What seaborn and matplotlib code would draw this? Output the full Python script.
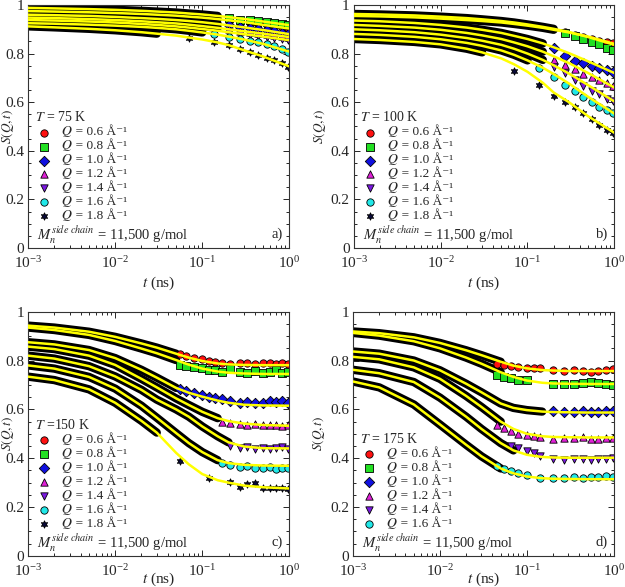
import numpy as np
import matplotlib

matplotlib.use('Agg')
import matplotlib.pyplot as plt
import seaborn as sns
from matplotlib.ticker import MultipleLocator, FuncFormatter

# fitted curves are read at these times (ns)
t_fit = [0.001, 0.002, 0.005, 0.01, 0.02, 0.03, 0.05, 0.07, 0.1, 0.15, 0.2, 0.3, 0.5, 1.0]

q_values = ['0.6', '0.8', '1.0', '1.2', '1.4', '1.6', '1.8']
q_colors = ['#ff1010', '#22e022', '#1010e0', '#e020d8', '#7a18e0', '#20e8e8', '#0a0a3a']
q_markers = ['o', 's', 'D', '^', 'v', 'o', (6, 1, 0)]

# ---- T = 75 K ----
fit_75 = [
    [0.975, 0.973, 0.970, 0.967, 0.963, 0.960, 0.956, 0.952, 0.948, 0.942, 0.937, 0.930, 0.918, 0.903],
    [0.988, 0.986, 0.983, 0.980, 0.976, 0.973, 0.969, 0.965, 0.961, 0.955, 0.950, 0.943, 0.932, 0.917],
    [0.960, 0.958, 0.955, 0.951, 0.946, 0.943, 0.938, 0.934, 0.929, 0.922, 0.916, 0.908, 0.897, 0.880],
    [0.948, 0.946, 0.942, 0.938, 0.933, 0.929, 0.924, 0.919, 0.913, 0.906, 0.900, 0.892, 0.882, 0.868],
    [0.938, 0.936, 0.932, 0.928, 0.922, 0.918, 0.912, 0.907, 0.901, 0.894, 0.888, 0.880, 0.870, 0.855],
    [0.925, 0.923, 0.919, 0.915, 0.910, 0.906, 0.900, 0.894, 0.887, 0.878, 0.870, 0.858, 0.840, 0.808],
    [0.912, 0.908, 0.902, 0.896, 0.888, 0.882, 0.874, 0.866, 0.858, 0.846, 0.835, 0.814, 0.788, 0.747],
]
dense_end_75 = [0.15, 0.15, 0.15, 0.15, 0.1, 0.1, 0.03]
t_pts_75 = [0.07, 0.135, 0.2, 0.27, 0.35, 0.44, 0.55, 0.66, 0.82, 0.97]
pts_75 = [
    [None, None, 0.936, 0.930, 0.927, 0.922, 0.918, 0.913, 0.908, 0.904],
    [None, None, 0.945, 0.940, 0.937, 0.934, 0.930, 0.926, 0.922, 0.918],
    [None, None, 0.918, 0.910, 0.905, 0.900, 0.896, 0.892, 0.886, 0.882],
    [None, None, 0.900, 0.893, 0.889, 0.884, 0.880, 0.877, 0.872, 0.868],
    [None, None, 0.890, 0.882, 0.877, 0.872, 0.868, 0.864, 0.859, 0.855],
    [None, 0.879, 0.868, 0.860, 0.853, 0.846, 0.838, 0.830, 0.820, 0.808],
    [0.865, 0.849, 0.835, 0.819, 0.805, 0.794, 0.783, 0.774, 0.760, 0.746],
]

# ---- T = 100 K ----
fit_100 = [
    [0.955, 0.953, 0.949, 0.944, 0.938, 0.934, 0.928, 0.922, 0.915, 0.906, 0.898, 0.887, 0.870, 0.840],
    [0.963, 0.961, 0.957, 0.952, 0.946, 0.941, 0.934, 0.928, 0.920, 0.910, 0.902, 0.889, 0.868, 0.836],
    [0.936, 0.933, 0.926, 0.918, 0.907, 0.898, 0.885, 0.873, 0.860, 0.842, 0.826, 0.802, 0.768, 0.720],
    [0.918, 0.914, 0.907, 0.898, 0.885, 0.875, 0.860, 0.846, 0.830, 0.808, 0.789, 0.761, 0.720, 0.660],
    [0.900, 0.896, 0.888, 0.878, 0.864, 0.853, 0.836, 0.820, 0.800, 0.774, 0.752, 0.718, 0.670, 0.603],
    [0.881, 0.877, 0.869, 0.859, 0.844, 0.832, 0.813, 0.795, 0.772, 0.742, 0.716, 0.677, 0.622, 0.553],
    [0.860, 0.856, 0.848, 0.838, 0.820, 0.805, 0.780, 0.756, 0.725, 0.680, 0.640, 0.600, 0.542, 0.474],
]
dense_end_100 = [0.2, 0.2, 0.15, 0.15, 0.15, 0.1, 0.03]
t_pts_100 = [0.07, 0.135, 0.2, 0.27, 0.35, 0.44, 0.55, 0.66, 0.82, 0.97]
pts_100 = [
    [None, None, None, 0.890, 0.878, 0.868, 0.860, 0.853, 0.847, 0.843],
    [None, None, None, 0.884, 0.872, 0.860, 0.848, 0.838, 0.824, 0.814],
    [None, None, 0.822, 0.790, 0.771, 0.760, 0.750, 0.742, 0.733, 0.726],
    [None, None, 0.772, 0.755, 0.735, 0.718, 0.703, 0.690, 0.677, 0.666],
    [None, None, 0.746, 0.720, 0.692, 0.668, 0.648, 0.632, 0.615, 0.605],
    [None, 0.739, 0.702, 0.670, 0.647, 0.620, 0.600, 0.582, 0.566, 0.555],
    [0.730, 0.671, 0.627, 0.600, 0.579, 0.554, 0.531, 0.506, 0.486, 0.474],
]

# ---- T = 150 K ----
fit_150 = [
    [0.943, 0.935, 0.918, 0.897, 0.870, 0.853, 0.828, 0.812, 0.798, 0.788, 0.784, 0.782, 0.781, 0.781],
    [0.935, 0.925, 0.905, 0.880, 0.849, 0.830, 0.802, 0.783, 0.767, 0.755, 0.750, 0.747, 0.745, 0.745],
    [0.875, 0.866, 0.843, 0.810, 0.762, 0.730, 0.688, 0.668, 0.652, 0.636, 0.627, 0.619, 0.616, 0.615],
    [0.857, 0.847, 0.820, 0.782, 0.725, 0.690, 0.645, 0.618, 0.590, 0.564, 0.552, 0.542, 0.536, 0.533],
    [0.820, 0.808, 0.777, 0.735, 0.680, 0.640, 0.600, 0.570, 0.530, 0.490, 0.465, 0.448, 0.441, 0.440],
    [0.780, 0.767, 0.733, 0.685, 0.615, 0.566, 0.503, 0.462, 0.425, 0.392, 0.380, 0.373, 0.370, 0.369],
    [0.734, 0.720, 0.682, 0.627, 0.553, 0.505, 0.422, 0.375, 0.335, 0.310, 0.300, 0.288, 0.281, 0.276],
]
dense_end_150 = [0.05, 0.05, 0.05, 0.15, 0.2, 0.15, 0.03]
t_pts_150 = [0.055, 0.065, 0.08, 0.1, 0.12, 0.14, 0.17, 0.21, 0.27, 0.33, 0.4, 0.5, 0.6, 0.7, 0.82, 0.97]
pts_150 = [
    [0.826, 0.820, 0.812, 0.805, 0.800, 0.795, 0.790, 0.786, 0.788, 0.790, 0.786, 0.788, 0.790, 0.785, 0.788, 0.786],
    [0.783, 0.778, 0.772, 0.768, 0.760, 0.762, 0.755, 0.765, 0.752, 0.750, 0.758, 0.748, 0.755, 0.760, 0.750, 0.755],
    [0.683, 0.676, 0.668, 0.660, 0.652, 0.648, 0.643, 0.636, 0.628, 0.632, 0.626, 0.628, 0.634, 0.630, 0.633, 0.628],
    [None, None, None, None, None, None, 0.550, 0.545, 0.540, 0.538, 0.542, 0.536, 0.535, 0.538, 0.532, 0.534],
    [None, None, None, None, None, None, None, 0.452, 0.440, 0.445, 0.438, 0.440, 0.436, 0.440, 0.446, 0.438],
    [None, None, None, None, None, None, 0.380, 0.372, 0.365, 0.368, 0.360, 0.358, 0.365, 0.356, 0.360, 0.358],
    [0.389, None, None, None, 0.317, None, None, 0.303, 0.283, 0.294, 0.299, 0.280, 0.280, 0.278, 0.276, 0.275],
]

# ---- T = 175 K ----
fit_175 = [
    [0.919, 0.912, 0.895, 0.872, 0.842, 0.822, 0.795, 0.779, 0.768, 0.761, 0.759, 0.757, 0.757, 0.757],
    [0.913, 0.902, 0.879, 0.850, 0.812, 0.787, 0.752, 0.733, 0.718, 0.709, 0.706, 0.705, 0.704, 0.704],
    [0.837, 0.828, 0.800, 0.760, 0.705, 0.670, 0.624, 0.606, 0.597, 0.591, 0.589, 0.588, 0.587, 0.587],
    [0.815, 0.805, 0.772, 0.725, 0.655, 0.610, 0.550, 0.520, 0.500, 0.490, 0.487, 0.486, 0.485, 0.485],
    [0.762, 0.748, 0.712, 0.648, 0.570, 0.520, 0.462, 0.432, 0.414, 0.405, 0.403, 0.402, 0.402, 0.402],
    [0.714, 0.690, 0.620, 0.538, 0.455, 0.408, 0.358, 0.338, 0.325, 0.318, 0.316, 0.315, 0.314, 0.314],
]
dense_end_175 = [0.05, 0.05, 0.15, 0.05, 0.07, 0.05]
t_pts_175 = [0.045, 0.055, 0.065, 0.08, 0.1, 0.12, 0.14, 0.2, 0.27, 0.35, 0.44, 0.55, 0.66, 0.82, 0.97]
pts_175 = [
    [0.785, 0.780, 0.778, 0.775, 0.771, 0.770, 0.768, 0.760, 0.758, 0.763, 0.757, 0.755, 0.758, 0.760, 0.766],
    [0.740, 0.733, 0.728, 0.722, 0.720, None, None, 0.705, 0.702, 0.703, 0.708, 0.712, 0.706, 0.703, 0.700],
    [None, None, None, None, None, None, None, 0.592, 0.588, 0.590, 0.594, 0.590, 0.588, 0.592, 0.594],
    [0.535, 0.522, 0.512, 0.500, 0.494, 0.490, 0.488, 0.480, 0.484, 0.482, 0.486, 0.480, 0.478, 0.483, 0.482],
    [None, None, 0.448, 0.440, 0.430, 0.420, 0.410, 0.395, 0.392, 0.398, 0.395, 0.392, 0.395, 0.398, 0.402],
    [0.370, 0.355, 0.347, 0.340, 0.332, None, 0.320, 0.318, 0.320, 0.322, 0.318, 0.324, 0.322, 0.326, 0.322],
]

panels = [
    ('$T$ = 75 K', fit_75, dense_end_75, t_pts_75, pts_75, 'a)'),
    ('$T$ = 100 K', fit_100, dense_end_100, t_pts_100, pts_100, 'b)'),
    ('$T$ =150 K', fit_150, dense_end_150, t_pts_150, pts_150, 'c)'),
    ('$T$ = 175 K', fit_175, dense_end_175, t_pts_175, pts_175, 'd)'),
]

axes_pos = [
    [0.045, 0.5775, 0.418, 0.414],
    [0.566, 0.5775, 0.417, 0.414],
    [0.045, 0.053, 0.418, 0.416],
    [0.565, 0.053, 0.417, 0.416],
]
ylabel_x = [-0.045, -0.1, -0.045, -0.1]
xlabel_y = [-0.11, -0.11, -0.06, -0.06]

# legend text: plain text with fallback fonts keeps the rows compact
legend_fonts = ['Liberation Serif', 'STIXGeneral', 'DejaVu Serif']


def draw_panel(ax, title, fit, dense_end, t_pts, pts, letter, ylx, xly):
    ax.set_xscale('log')
    tf = np.array(t_fit)
    tp = np.array(t_pts)
    handles = []
    for i in range(len(fit)):
        s_fit = np.array(fit[i])
        m = tf <= dense_end[i] + 1e-9
        # dense data at short times merge into a black band
        sns.lineplot(x=tf[m], y=s_fit[m], color='black', lw=6, ax=ax, zorder=1,
                     estimator=None, legend=False, solid_capstyle='round')
        s_pts = np.array(pts[i], dtype=float)
        k = ~np.isnan(s_pts)
        sns.scatterplot(x=tp[k], y=s_pts[k], marker=q_markers[i], color=q_colors[i],
                        edgecolor='black', linewidth=0.6, s=28, ax=ax, zorder=2)
        handles.append(ax.collections[-1])
        sns.lineplot(x=tf, y=s_fit, color='#ffff00', lw=1.8, ax=ax, zorder=3,
                     estimator=None, legend=False)

    labels = [f'\U0001D444 = {q} Å\u207b\u00b9' for q in q_values[:len(fit)]]
    leg = ax.legend(handles, labels, title=title, loc='lower left', bbox_to_anchor=(0.0, 0.08),
                    frameon=False, prop={'family': legend_fonts, 'size': 9.5},
                    title_fontsize=10, alignment='left',
                    scatterpoints=1, handletextpad=0.7, labelspacing=0.1, borderaxespad=0.3,
                    borderpad=0.2, handlelength=1.4, handleheight=0.4)
    leg.get_title().set_family(['Liberation Serif', 'DejaVu Serif'])
    ax.text(0.035, 0.055, r'$M_n^{\mathit{side\ chain}}$ = 11,500 g/mol', transform=ax.transAxes,
            fontsize=10.5, va='center', ha='left')
    ax.text(0.975, 0.055, letter, transform=ax.transAxes, fontsize=10.5, va='center', ha='right')

    ax.set_xlim(1e-3, 1)
    ax.set_ylim(0, 1)
    ax.yaxis.set_major_locator(MultipleLocator(0.2))
    ax.yaxis.set_minor_locator(MultipleLocator(0.05))
    ax.yaxis.set_major_formatter(FuncFormatter(lambda v, _: f'{v:g}'))
    ax.tick_params(which='both', direction='in', top=True, right=True, labelsize=11, width=0.7)
    ax.tick_params(which='major', length=4.5, pad=3)
    ax.tick_params(which='minor', length=2.5)
    ax.tick_params(axis='x', which='major', pad=5)
    ax.set_xlabel('$t$ (ns)', fontsize=11)
    ax.set_ylabel('$S(Q,t)$', fontsize=9.5)
    ax.xaxis.set_label_coords(0.5, xly)
    ax.yaxis.set_label_coords(ylx, 0.5)
    for sp in ax.spines.values():
        sp.set_linewidth(0.8)
        sp.set_color('#333333')


def main():
    sns.set_style('ticks')
    plt.rcParams['font.family'] = ['Liberation Serif', 'DejaVu Serif']
    plt.rcParams['mathtext.fontset'] = 'stix'

    fig = plt.figure(figsize=(6.25, 5.87), dpi=100)
    for pos, (title, fit, dend, tp, pts, letter), ylx, xly in zip(axes_pos, panels, ylabel_x, xlabel_y):
        ax = fig.add_axes(pos)
        draw_panel(ax, title, fit, dend, tp, pts, letter, ylx, xly)

    fig.savefig('out.png', dpi=100)
    plt.close(fig)


if __name__ == '__main__':
    main()
